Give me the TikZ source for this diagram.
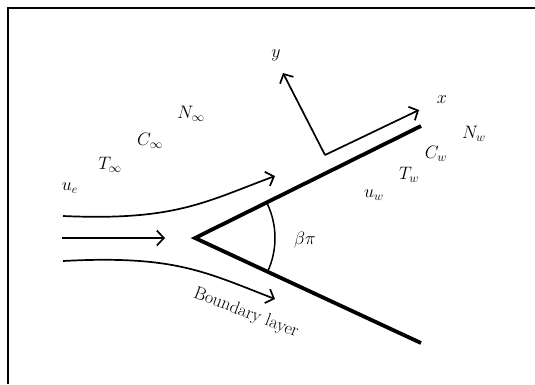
\RequirePackage{fix-cm}
\documentclass[tikz,border=0pt]{standalone}
\usetikzlibrary{arrows.meta}
\begin{document}
\begin{tikzpicture}[x=1pt,y=-1pt,
    flow/.style={line width=1.7pt,-{Straight Barb[length=7pt,width=15pt,line width=1.7pt]}},
    wall/.style={line width=3.8pt},
    lbl/.style={font=\fontsize{18}{20}\selectfont}]
    \useasboundingbox (0,0) rectangle (535,384);
    \draw[line width=1.5pt] (8,384) -- (8,8) -- (535,8);
    % wedge
    \coordinate (apex) at (195,238);
    \coordinate (upend) at (421,126);
    \coordinate (lowend) at (421,343);
    \draw[wall] (upend) -- (apex) -- (lowend);
    \draw[line width=1.5pt] (apex) ++(-26:80) arc[start angle=-26, end angle=26, radius=80];
    \node[lbl] (angle) at (305,240) {$\beta\pi$};
    % axes
    \coordinate (orig) at (325,155);
    \coordinate (ytip) at (283,73);
    \coordinate (xtip) at (419,110);
    \draw[flow] (orig) -- (ytip);
    \draw[flow] (orig) -- (xtip);
    \node[lbl] (ylab) at (276,55) {$y$};
    \node[lbl] (xlab) at (442,100) {$x$};
    % streamlines
    \coordinate (midstart) at (62,238);
    \coordinate (midtip) at (165,238);
    \coordinate (upstart) at (63,216);
    \coordinate (uptip) at (275,176);
    \coordinate (lowstart) at (63,261);
    \coordinate (lowtip) at (275,299);
    \draw[flow] (midstart) -- (midtip);
    \draw[flow] (upstart) .. controls (175,221) and (205,202) .. (uptip);
    \draw[flow] (lowstart) .. controls (175,255) and (205,272) .. (lowtip);
    \node[lbl, rotate=-21] (bl) at (246,313) {Boundary layer};
    % free stream and wall values
    \foreach \lab/\px/\py [count=\k] in {u_e/70/188, T_\infty/110/165, C_\infty/150/141, N_\infty/191/114}
      \node[lbl] (free\k) at (\px,\py) {$\lab$};
    \foreach \lab/\px/\py [count=\k] in {u_w/374/195, T_w/409/175, C_w/436/154, N_w/474/134}
      \node[lbl] (wall\k) at (\px,\py) {$\lab$};
\end{tikzpicture}
\end{document}
